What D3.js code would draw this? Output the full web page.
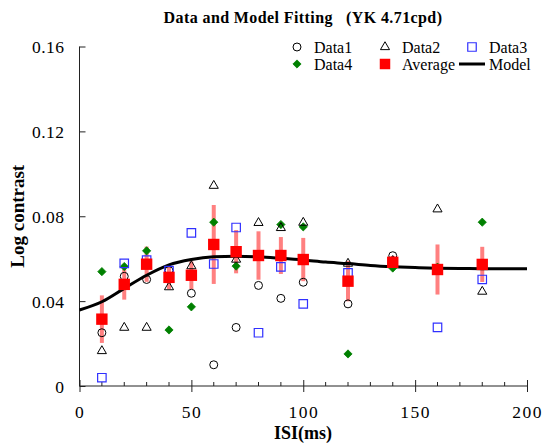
<!DOCTYPE html>
<html>
<head>
<meta charset="utf-8">
<script src="https://cdn.jsdelivr.net/npm/d3@7"></script>
<style>
  html, body { margin: 0; padding: 0; background: #fff; }
</style>
</head>
<body>
<svg id="chart" width="542" height="443"></svg>
<script>
// ISI values (ms) at which contrast thresholds were measured
const isi = [10, 20, 30, 40, 50, 60, 70, 80, 90, 100, 120, 140, 160, 180];

// Individual runs (log contrast)
const data1 = [0.0251, 0.0517, 0.0502, 0.0544, 0.0437, 0.0100, 0.0276, 0.0474, 0.0413, 0.0489, 0.0387, 0.0614, 0.0553, 0.0570];
const data2 = [0.0165, 0.0275, 0.0275, 0.0466, 0.0565, 0.0944, 0.0596, 0.0769, 0.0745, 0.0770, 0.0577, 0.0590, 0.0833, 0.0445];
const data3 = [0.0039, 0.0578, 0.0593, 0.0544, 0.0722, 0.0575, 0.0747, 0.0251, 0.0561, 0.0387, 0.0533, 0.0580, 0.0276, 0.0502];
const data4 = [0.0539, 0.0563, 0.0637, 0.0264, 0.0373, 0.0772, 0.0565, 0.0620, 0.0761, 0.0750, 0.0151, 0.0556, 0.0560, 0.0772];

// Averages and their error half-widths
const average = [0.0315, 0.0479, 0.0574, 0.0512, 0.0522, 0.0667, 0.0633, 0.0615, 0.0615, 0.0596, 0.0494, 0.0583, 0.0549, 0.0573];
const errHalf = [0.0112, 0.0072, 0.0083, 0.0055, 0.0065, 0.0186, 0.0102, 0.0114, 0.0087, 0.0102, 0.0095, 0.0030, 0.0118, 0.0083];

// Model prediction sampled every 10 ms
const modelIsi = [0, 10, 20, 30, 40, 50, 60, 70, 80, 90, 100, 110, 120, 130, 140, 150, 160, 170, 180, 190, 200];
const modelVal = [0.0358, 0.0397, 0.0460, 0.0522, 0.0571, 0.0596, 0.0609, 0.0612, 0.0609, 0.0602, 0.0594, 0.0584, 0.0577, 0.0568, 0.0562, 0.0558, 0.0555, 0.0554, 0.0553, 0.0553, 0.0553];

// Axis ticks
const xMajorTicks = [0, 50, 100, 150, 200];
const xMinorTicks = d3.range(0, 201, 10);
const yTicks = [0, 0.04, 0.08, 0.12, 0.16];

const FONT = "Liberation Serif";

const svg = d3.select("#chart");
const x = d3.scaleLinear().domain([0, 200]).range([79.5, 527]);
const y = d3.scaleLinear().domain([0, 0.16]).range([386, 46.5]);

const axisColor = "#222";

// ---- Y axis: line with inward ticks
const yAxis = d3.axisLeft(y).tickValues(yTicks).tickSize(0).tickPadding(0)
  .tickFormat(d => d === 0 ? "0" : d3.format(".2f")(d));
const gy = svg.append("g").attr("transform", `translate(${x(0)},0)`).call(yAxis)
  .attr("font-family", FONT).attr("font-size", 17.5);
gy.select(".domain").attr("stroke", axisColor).attr("d", `M0,${y(0)}V${y(0.16)}`);
gy.selectAll(".tick line").remove();
gy.selectAll(".tick").append("line").attr("x1", 0).attr("x2", 6).attr("stroke", axisColor);
gy.selectAll(".tick text")
  .attr("x", -15).attr("dy", "0.35em")
  .attr("letter-spacing", "0.5px")
  .attr("fill", "#000");

// ---- X axis: minor ticks point up, major ticks cross the line
const xAxis = d3.axisBottom(x).tickValues(xMajorTicks).tickSize(0).tickPadding(0).tickFormat(d3.format("d"));
const gx = svg.append("g").attr("transform", `translate(0,${y(0)})`).call(xAxis)
  .attr("font-family", FONT).attr("font-size", 17.5);
gx.select(".domain").attr("stroke", axisColor).attr("d", `M${x(0)},0H${x(200)}`);
gx.selectAll(".tick line").remove();
gx.selectAll(".tick").append("line").attr("y1", -6).attr("y2", 6).attr("stroke", axisColor);
gx.selectAll(".tick text")
  .attr("y", 20)
  .attr("letter-spacing", "1.5px")
  .attr("fill", "#000");
gx.selectAll(".minor")
  .data(xMinorTicks.filter(d => d % 50 !== 0))
  .join("line")
  .attr("class", "minor")
  .attr("x1", d => x(d)).attr("x2", d => x(d))
  .attr("y1", -4).attr("y2", 0)
  .attr("stroke", axisColor);

// ---- Titles
svg.append("text")
  .attr("x", 303).attr("y", 23)
  .attr("text-anchor", "middle")
  .attr("font-family", FONT)
  .attr("font-size", 16).attr("font-weight", "bold")
  .attr("letter-spacing", "0.4px")
  .attr("xml:space", "preserve")
  .text("Data and Model Fitting   (YK 4.71cpd)");

svg.append("text")
  .attr("x", 303).attr("y", 439)
  .attr("text-anchor", "middle")
  .attr("font-family", FONT)
  .attr("font-size", 18).attr("font-weight", "bold")
  .text("ISI(ms)");

svg.append("text")
  .attr("transform", `translate(24,${y(0.08)}) rotate(-90)`)
  .attr("text-anchor", "middle")
  .attr("font-family", FONT)
  .attr("font-size", 19).attr("font-weight", "bold")
  .text("Log contrast");

// ---- Error bars
const plot = svg.append("g");
plot.selectAll(".err")
  .data(isi.map((d, i) => ({ x: d, v: average[i], e: errHalf[i] })))
  .join("line")
  .attr("class", "err")
  .attr("x1", d => x(d.x)).attr("x2", d => x(d.x))
  .attr("y1", d => y(d.v - d.e)).attr("y2", d => y(d.v + d.e))
  .attr("stroke", "#ff8080").attr("stroke-width", 4);

// ---- Model curve
const line = d3.line().x((d, i) => x(modelIsi[i])).y(d => y(d)).curve(d3.curveMonotoneX);
plot.append("path")
  .datum(modelVal)
  .attr("d", line)
  .attr("fill", "none").attr("stroke", "#000").attr("stroke-width", 3);

// ---- Marker shapes
const rotatedSquare = { draw(ctx, size) { const r = Math.sqrt(size / 2); ctx.moveTo(0, -r); ctx.lineTo(r, 0); ctx.lineTo(0, r); ctx.lineTo(-r, 0); ctx.closePath(); } };
const sym = {
  circle: d3.symbol().type(d3.symbolCircle).size(50),
  triangle: d3.symbol().type(d3.symbolTriangle).size(36),
  square: d3.symbol().type(d3.symbolSquare).size(72),
  diamond: d3.symbol().type(rotatedSquare).size(34),
  avg: d3.symbol().type(d3.symbolSquare).size(130)
};

function drawSeries(values, shape, fill, stroke, sw, cls) {
  plot.selectAll("." + cls)
    .data(values.map((v, i) => ({ x: isi[i], v })))
    .join("path")
    .attr("class", cls)
    .attr("transform", d => `translate(${x(d.x)},${y(d.v)})`)
    .attr("d", sym[shape]())
    .attr("fill", fill).attr("stroke", stroke).attr("stroke-width", sw);
}

drawSeries(data4, "diamond", "#008000", "#008000", 0.8, "d4");
drawSeries(data1, "circle", "none", "#000", 1, "d1");
drawSeries(data2, "triangle", "none", "#000", 1, "d2");
drawSeries(data3, "square", "none", "#3030ff", 1.2, "d3");
drawSeries(average, "avg", "#ff0000", "none", 0, "av");

// ---- Legend
const legend = svg.append("g");
const legendItems = [
  { label: "Data1", shape: "circle", fill: "none", stroke: "#000", sw: 1, mx: 297, my: 47 },
  { label: "Data2", shape: "triangle", fill: "none", stroke: "#000", sw: 1, mx: 385, my: 47 },
  { label: "Data3", shape: "square", fill: "none", stroke: "#3030ff", sw: 1.2, mx: 472, my: 47 },
  { label: "Data4", shape: "diamond", fill: "#008000", stroke: "#008000", sw: 0.8, mx: 297, my: 64 },
  { label: "Average", shape: "avg", fill: "#ff0000", stroke: "none", sw: 0, mx: 385, my: 64 },
  { label: "Model", shape: "line", mx: 472, my: 64 }
];
legendItems.forEach(it => {
  if (it.shape === "line") {
    legend.append("line")
      .attr("x1", it.mx - 13).attr("x2", it.mx + 13)
      .attr("y1", it.my).attr("y2", it.my)
      .attr("stroke", "#000").attr("stroke-width", 3);
  } else {
    const s = it.shape === "avg" ? d3.symbol().type(d3.symbolSquare).size(110) : sym[it.shape];
    legend.append("path")
      .attr("transform", `translate(${it.mx},${it.my})`)
      .attr("d", s())
      .attr("fill", it.fill).attr("stroke", it.stroke).attr("stroke-width", it.sw);
  }
  legend.append("text")
    .attr("x", it.mx + 17).attr("y", it.my + 6)
    .attr("font-family", FONT)
    .attr("font-size", 16)
    .text(it.label);
});
</script>
</body>
</html>
